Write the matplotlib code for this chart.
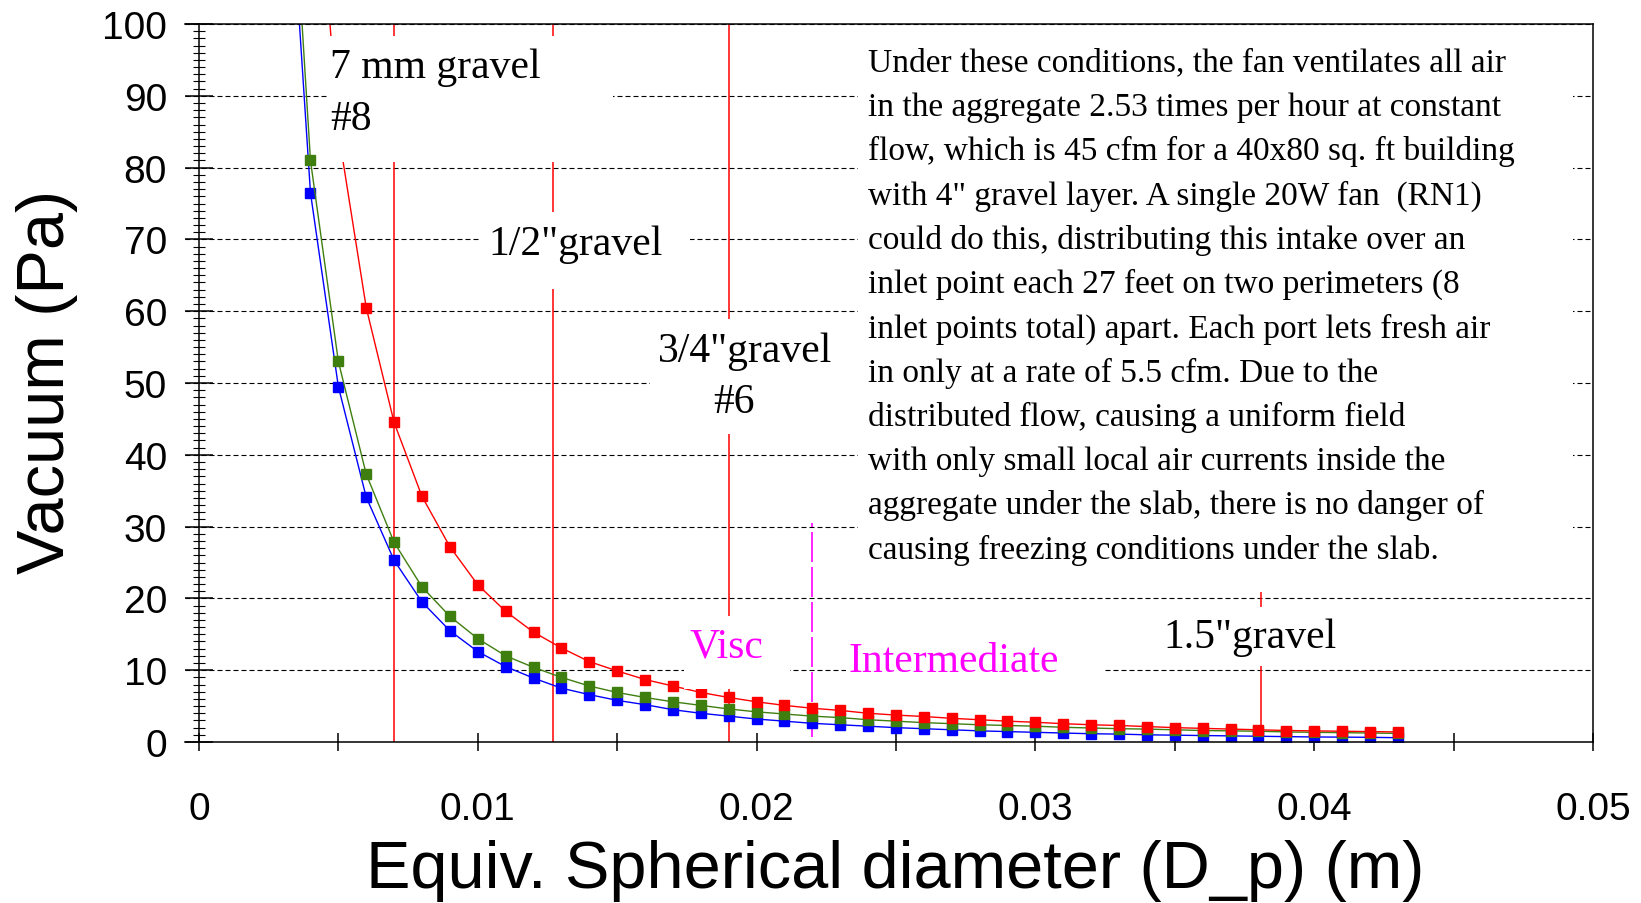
import matplotlib
matplotlib.use("Agg")
from matplotlib import pyplot as plt
from matplotlib.patches import Rectangle
from matplotlib.ticker import MultipleLocator

# --- data ---
diam = [0.003, 0.004, 0.005, 0.006, 0.007, 0.008, 0.009, 0.010, 0.011, 0.012,
        0.013, 0.014, 0.015, 0.016, 0.017, 0.018, 0.019, 0.020, 0.021, 0.022,
        0.023, 0.024, 0.025, 0.026, 0.027, 0.028, 0.029, 0.030, 0.031, 0.032,
        0.033, 0.034, 0.035, 0.036, 0.037, 0.038, 0.039, 0.040, 0.041, 0.042,
        0.043]
vac_blue = [136, 76.5, 49.5, 34.1, 25.3, 19.5, 15.5, 12.6, 10.5, 8.9,
            7.5, 6.6, 5.8, 5.2, 4.5, 4.0, 3.6, 3.2, 2.9, 2.6,
            2.4, 2.2, 2.0, 1.85, 1.7, 1.55, 1.45, 1.35, 1.25, 1.15,
            1.1, 1.0, 0.95, 0.9, 0.85, 0.8, 0.75, 0.7, 0.68, 0.65,
            0.6]
vac_green = [144, 81, 53, 37.3, 27.8, 21.6, 17.5, 14.4, 12.0, 10.4,
             9.0, 7.8, 6.9, 6.2, 5.6, 5.1, 4.6, 4.2, 3.9, 3.6,
             3.4, 3.1, 2.9, 2.7, 2.55, 2.4, 2.3, 2.2, 2.05, 1.95,
             1.85, 1.8, 1.7, 1.6, 1.55, 1.5, 1.4, 1.35, 1.3, 1.25,
             1.2]
diam_red = diam[1:]
vac_red = [135, 85, 60.5, 44.5, 34.2, 27.2, 21.9, 18.2, 15.3,
           13.1, 11.2, 9.9, 8.7, 7.8, 6.9, 6.2, 5.6, 5.1, 4.7,
           4.4, 4.0, 3.75, 3.55, 3.3, 3.1, 2.9, 2.75, 2.55, 2.4,
           2.3, 2.15, 2.0, 1.9, 1.8, 1.7, 1.6, 1.55, 1.5, 1.45,
           1.4]

# gravel size markers (m) and how high each red line reaches
gravel_d = [0.007, 0.0127, 0.019, 0.0381]
gravel_top = [100, 100, 100, 21]
# viscous / intermediate boundary
regime_d = 0.022
regime_span = [0.7, 30.5]

x_ticks = [0, 0.005, 0.01, 0.015, 0.02, 0.025, 0.03, 0.035, 0.04, 0.045, 0.05]
x_ticklabels = ['0', '', '0.01', '', '0.02', '', '0.03', '', '0.04', '', '0.05']

note = [
    "Under these conditions, the fan ventilates all air",
    "in the aggregate 2.53 times per hour at constant",
    "flow, which is 45 cfm for a 40x80 sq. ft building",
    "with 4\" gravel layer. A single 20W fan  (RN1)",
    "could do this, distributing this intake over an",
    "inlet point each 27 feet on two perimeters (8",
    "inlet points total) apart. Each port lets fresh air",
    "in only at a rate of 5.5 cfm. Due to the",
    "distributed flow, causing a uniform field",
    "with only small local air currents inside the",
    "aggregate under the slab, there is no danger of",
    "causing freezing conditions under the slab.",
]

W, H = 1641, 904
SANS = 'Liberation Sans'
SERIF = 'Liberation Serif'


def fx(x):
    return x / W


def fy(y):
    return 1 - y / H


def blank(ax, x0, y0, x1, y1):
    # white box in pixel coords, like the excel text boxes hiding grid lines
    r = Rectangle((fx(x0), fy(y1)), (x1 - x0) / W, (y1 - y0) / H,
                  transform=ax.figure.transFigure, facecolor='white',
                  edgecolor='none', zorder=3)
    ax.add_patch(r)


def label(ax, x, y, s, color='black', size=30, ha='left'):
    ax.text(fx(x), fy(y), s, transform=ax.figure.transFigure, fontsize=size,
            family=SERIF, color=color, ha=ha, va='baseline', zorder=4)


fig = plt.figure(figsize=(W / 100, H / 100), dpi=100)
ax = fig.add_axes([fx(185), fy(743), 1408 / W, 718 / H])

ax.set_xlim(-0.0005, 0.05)
ax.set_ylim(0, 100)
ax.spines['left'].set_position(('data', 0))
for sp in ax.spines.values():
    sp.set_linewidth(1.1)

ax.set_xticks(x_ticks)
ax.set_xticklabels(x_ticklabels)
ax.yaxis.set_major_locator(MultipleLocator(10))
ax.yaxis.set_minor_locator(MultipleLocator(1))
ax.tick_params(axis='y', which='major', direction='inout', length=20, width=1.1,
               labelsize=28, pad=13)
ax.tick_params(axis='y', which='minor', direction='inout', length=8, width=0.8)
ax.tick_params(axis='x', which='major', direction='inout', length=13, width=1.1,
               labelsize=28, pad=29)
for t in ax.get_xticklabels() + ax.get_yticklabels():
    t.set_family(SANS)

ax.set_axisbelow(True)
ax.yaxis.grid(True, color='black', linestyle=(0, (4.5, 2.7)), linewidth=0.8)

for d, top in zip(gravel_d, gravel_top):
    ax.plot([d, d], [0, top], color='red', lw=1.1, zorder=1.5)
ax.plot([regime_d, regime_d], regime_span, color='#ff00ff', lw=1.2,
        dashes=(18, 3), zorder=1.5)

ax.plot(diam, vac_blue, color='blue', lw=1.0, marker='s', ms=6.5, zorder=2)
ax.plot(diam, vac_green, color='#3f7f10', lw=1.0, marker='s', ms=6.5, zorder=2)
ax.plot(diam_red, vac_red, color='red', lw=1.0, marker='s', ms=6.5, zorder=2)

# text boxes
blank(ax, 327, 37, 613, 163)
blank(ax, 480, 213, 690, 290)
blank(ax, 650, 320, 858, 435)
blank(ax, 684, 617, 790, 690)
blank(ax, 846, 608, 1103, 690)
blank(ax, 1140, 608, 1345, 667)
blank(ax, 858, 40, 1573, 593)

label(ax, 330, 78, '7 mm gravel')
label(ax, 330, 130, '#8')
label(ax, 488, 255, '1/2"gravel')
label(ax, 658, 362, '3/4"gravel')
label(ax, 734, 413, '#6', ha='center')
label(ax, 690, 657, 'Visc', color='#ff00ff')
label(ax, 848, 672, 'Intermediate', color='#ff00ff')
label(ax, 1163, 648, '1.5"gravel')

for i, line in enumerate(note):
    label(ax, 868, 71.5 + i * 44.3, line, size=24)

fig.text(fx(895), fy(888), 'Equiv. Spherical diameter (D_p) (m)', family=SANS,
         fontsize=48, ha='center', va='baseline')
fig.text(fx(47), fy(382), 'Vacuum (Pa)', family=SANS, fontsize=48,
         rotation=90, ha='center', va='center')

fig.savefig('out.png', dpi=100)
